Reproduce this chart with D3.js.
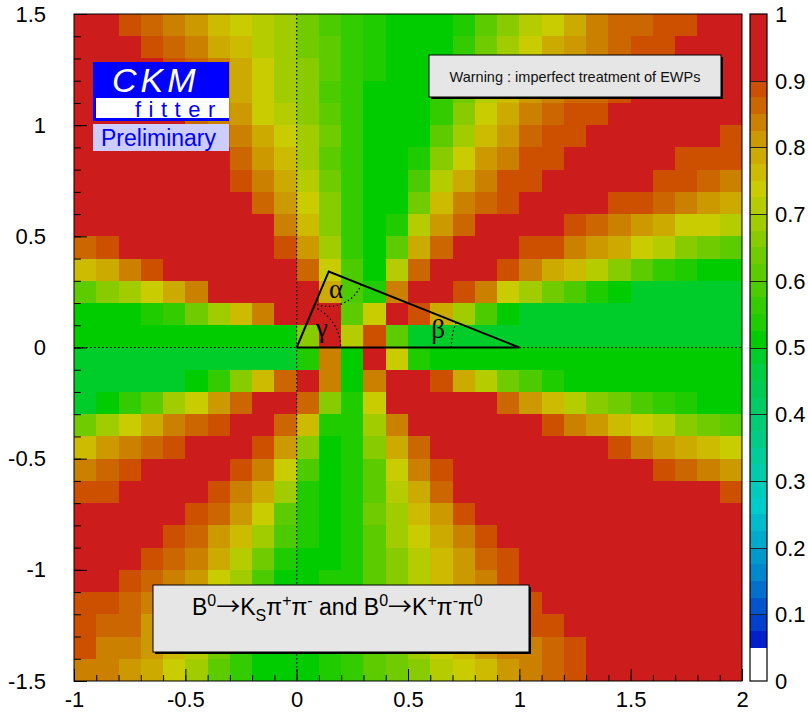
<!DOCTYPE html>
<html><head><meta charset="utf-8">
<script src="https://cdn.jsdelivr.net/npm/d3@7"></script>
<style>body{margin:0;background:#fff}</style>
</head><body>
<svg id="c" width="808" height="713"></svg>
<script>
// ---- data ----
const rhoBins = [-1.0,-0.9,-0.8,-0.7,-0.6,-0.5,-0.4,-0.3,-0.2,-0.1,0.0,0.1,0.2,0.3,0.4,0.5,0.6,0.7,0.8,0.9,1.0,1.1,1.2,1.3,1.4,1.5,1.6,1.7,1.8,1.9];
const etaBins = [1.4,1.3,1.2,1.1,1.0,0.9,0.8,0.7,0.6,0.5,0.4,0.3,0.2,0.1,0.0,-0.1,-0.2,-0.3,-0.4,-0.5,-0.6,-0.7,-0.8,-0.9,-1.0,-1.1,-1.2,-1.3,-1.4,-1.5];
const binWidth = 0.1;
const pValue = [
[.95,.95,.89,.86,.84,.81,.76,.74,.71,.69,.64,.59,.56,.54,.51,.51,.51,.54,.61,.66,.71,.74,.79,.84,.86,.86,.89,.89,.95,.95],
[.95,.95,.95,.89,.86,.84,.79,.76,.71,.69,.64,.61,.56,.54,.51,.51,.51,.56,.64,.69,.74,.79,.81,.84,.86,.89,.89,.95,.95,.95],
[.95,.95,.95,.95,.89,.86,.84,.79,.74,.69,.66,.61,.56,.54,.51,.51,.54,.61,.69,.74,.79,.81,.84,.86,.89,.89,.95,.95,.95,.95],
[.95,.95,.95,.95,.95,.89,.84,.79,.74,.69,.66,.59,.56,.51,.51,.51,.56,.64,.71,.76,.81,.84,.86,.86,.89,.95,.95,.95,.95,.95],
[.95,.95,.95,.95,.95,.86,.84,.81,.74,.71,.66,.61,.56,.51,.51,.51,.56,.66,.74,.79,.84,.86,.89,.89,.95,.95,.95,.95,.95,.95],
[.95,.95,.95,.95,.95,.95,.86,.84,.79,.74,.69,.64,.56,.51,.51,.51,.61,.69,.76,.81,.86,.89,.89,.95,.95,.95,.95,.95,.95,.89],
[.95,.95,.95,.95,.95,.95,.95,.86,.81,.76,.69,.61,.56,.51,.51,.54,.66,.74,.81,.84,.89,.89,.95,.95,.95,.95,.95,.89,.89,.89],
[.95,.95,.95,.95,.95,.95,.95,.89,.84,.79,.71,.64,.56,.51,.51,.59,.71,.79,.84,.89,.89,.95,.95,.95,.95,.95,.89,.89,.86,.84],
[.95,.95,.95,.95,.95,.95,.95,.95,.86,.81,.74,.66,.56,.51,.51,.64,.76,.84,.86,.89,.95,.95,.95,.95,.89,.89,.86,.84,.81,.79],
[.95,.95,.95,.95,.95,.95,.95,.95,.95,.84,.76,.66,.56,.51,.54,.71,.81,.86,.95,.95,.95,.95,.89,.86,.84,.81,.79,.74,.74,.71],
[.86,.89,.95,.95,.95,.95,.95,.95,.95,.89,.81,.69,.56,.51,.61,.79,.86,.95,.95,.95,.89,.89,.84,.81,.79,.74,.71,.66,.64,.61],
[.76,.79,.84,.89,.95,.95,.95,.95,.95,.95,.86,.74,.59,.51,.71,.86,.95,.95,.95,.89,.84,.79,.76,.71,.66,.61,.56,.54,.51,.51],
[.61,.66,.69,.74,.79,.84,.95,.95,.95,.95,.95,.79,.59,.54,.84,.95,.95,.89,.84,.74,.69,.64,.59,.54,.51,.49,.49,.49,.49,.49],
[.51,.51,.51,.54,.56,.64,.69,.76,.84,.95,.95,.95,.61,.74,.95,.89,.79,.69,.59,.51,.49,.49,.49,.49,.49,.49,.49,.49,.49,.49],
[.51,.51,.51,.51,.51,.51,.51,.51,.51,.51,.66,.95,.71,.89,.61,.49,.49,.49,.49,.49,.49,.49,.49,.49,.49,.49,.49,.49,.49,.49],
[.49,.49,.49,.49,.49,.49,.49,.49,.49,.49,.54,.84,.51,.95,.74,.54,.51,.51,.51,.51,.51,.51,.51,.51,.51,.51,.51,.51,.51,.51],
[.49,.49,.49,.49,.49,.51,.56,.66,.76,.86,.95,.84,.51,.84,.95,.95,.89,.79,.71,.64,.59,.54,.51,.51,.51,.51,.51,.51,.51,.51],
[.49,.51,.56,.61,.69,.74,.81,.86,.95,.95,.86,.66,.54,.74,.95,.95,.95,.95,.95,.86,.81,.76,.71,.66,.64,.59,.56,.54,.51,.51],
[.64,.69,.74,.79,.84,.86,.89,.95,.95,.86,.76,.54,.54,.69,.84,.95,.95,.95,.95,.95,.95,.89,.84,.81,.76,.74,.71,.66,.64,.61],
[.76,.81,.84,.86,.89,.95,.95,.95,.89,.81,.66,.51,.54,.66,.79,.86,.95,.95,.95,.95,.95,.95,.95,.95,.89,.84,.81,.79,.76,.74],
[.84,.86,.89,.95,.95,.95,.95,.89,.84,.74,.59,.51,.54,.61,.74,.84,.89,.95,.95,.95,.95,.95,.95,.95,.95,.95,.89,.86,.84,.81],
[.89,.89,.95,.95,.95,.95,.89,.84,.79,.69,.54,.51,.54,.61,.71,.79,.86,.95,.95,.95,.95,.95,.95,.95,.95,.95,.95,.95,.95,.89],
[.95,.95,.95,.95,.95,.89,.86,.81,.74,.61,.54,.51,.54,.64,.69,.76,.81,.89,.95,.95,.95,.95,.95,.95,.95,.95,.95,.95,.95,.95],
[.95,.95,.95,.95,.89,.86,.81,.76,.69,.59,.54,.51,.54,.61,.69,.74,.79,.84,.89,.95,.95,.95,.95,.95,.95,.95,.95,.95,.95,.95],
[.95,.95,.95,.89,.86,.84,.79,.71,.64,.54,.51,.51,.54,.61,.66,.71,.76,.81,.86,.89,.95,.95,.95,.95,.95,.95,.95,.95,.95,.95],
[.95,.95,.89,.86,.84,.81,.74,.69,.59,.51,.51,.54,.54,.61,.66,.71,.76,.81,.84,.89,.95,.95,.95,.95,.95,.95,.95,.95,.95,.95],
[.89,.89,.86,.84,.81,.76,.71,.61,.54,.51,.51,.54,.54,.61,.66,.71,.76,.81,.84,.86,.89,.95,.95,.95,.95,.95,.95,.95,.95,.95],
[.89,.86,.86,.81,.79,.74,.69,.59,.51,.51,.51,.54,.56,.61,.66,.69,.74,.79,.81,.84,.89,.89,.95,.95,.95,.95,.95,.95,.95,.95],
[.89,.84,.84,.81,.76,.71,.64,.56,.51,.51,.51,.54,.56,.61,.64,.69,.74,.76,.81,.84,.84,.86,.89,.95,.95,.95,.95,.95,.95,.95],
[.84,.84,.81,.79,.74,.69,.61,.56,.51,.51,.51,.54,.56,.61,.64,.66,.71,.74,.76,.81,.84,.86,.89,.95,.95,.95,.95,.95,.95,.95]
];
const xTickLabels = [-1,-0.5,0,0.5,1,1.5,2];
const yTickLabels = [-1.5,-1,-0.5,0,0.5,1,1.5];
const zTickLabels = [0,0.1,0.2,0.3,0.4,0.5,0.6,0.7,0.8,0.9,1];
const triangle = [[0,0],[1,0],[0.144,0.342]];   // (rho, eta) vertices: O, B, apex A

// ---- style ----
const paletteColors = ['#ffffff',
 '#0020cc','#0040cc','#0055cc','#0070cc','#0088cc','#0099cc','#00aacc','#00bbcc',
 '#00cccc','#00ccbb','#00ccaa','#00cc99','#00cc88','#00cc77','#00cc66','#00cc55','#00cc44','#00cc2a',
 '#00cc00','#1ecc00','#33cc00','#4ccc00','#5ccc00','#70cc00','#88cc00','#a0cc00','#b4cc00','#c8cc00',
 '#ccbb00','#ccaa00','#cc9900','#cc8000','#cc6600','#cc5000',
 '#cc1c1c'];
const thresholds = d3.range(35).map(i => +(0.05 + 0.025*i).toFixed(3));
const color = d3.scaleThreshold().domain(thresholds).range(paletteColors);
const FONT = "'Liberation Sans', Arial, Helvetica, sans-serif";
const SERIF = "'Liberation Serif', 'Times New Roman', serif";

const svg = d3.select('#c');
const x = d3.scaleLinear().domain([-1,2]).range([74,742]);
const y = d3.scaleLinear().domain([-1.5,1.5]).range([681,14]);

// ---- cells ----
const cells = [];
pValue.forEach((row,j) => row.forEach((v,i) => cells.push({rho:rhoBins[i], eta:etaBins[j], v})));
svg.append('g').selectAll('rect').data(cells).join('rect')
  .attr('x', d => Math.round(x(d.rho)))
  .attr('y', d => Math.round(y(d.eta+binWidth)))
  .attr('width', d => Math.round(x(d.rho+binWidth)) - Math.round(x(d.rho)))
  .attr('height', d => Math.round(y(d.eta)) - Math.round(y(d.eta+binWidth)))
  .attr('fill', d => color(d.v))
  .attr('shape-rendering','crispEdges');

// ---- dotted axes ----
const dot = g => g.attr('stroke','#000').attr('stroke-width',1.2).attr('stroke-dasharray','1.5,2.5').attr('fill','none');
svg.append('line').attr('x1',x(0)).attr('x2',x(0)).attr('y1',y(1.5)).attr('y2',y(-1.5)).call(dot);
svg.append('line').attr('x1',x(-1)).attr('x2',x(0)).attr('y1',y(0)).attr('y2',y(0)).call(dot);
svg.append('line').attr('x1',x(1)).attr('x2',x(2)).attr('y1',y(0)).attr('y2',y(0)).call(dot);

// ---- triangle ----
const P = triangle.map(([r,e]) => [x(r), y(e)]);
svg.append('path').attr('d', d3.line()([P[0],P[1],P[2],P[0]]))
  .attr('fill','none').attr('stroke','#000').attr('stroke-width',2).attr('stroke-linejoin','miter');
const [O,B,A] = P;
const ang = (p,q) => Math.atan2(q[1]-p[1], q[0]-p[0]);
let pa = d3.path(); pa.arc(O[0],O[1],44, ang(O,A), 0, false);
svg.append('path').attr('d', pa.toString()).call(dot);
pa = d3.path(); pa.arc(A[0],A[1],35, ang(A,B), ang(A,O), false);
svg.append('path').attr('d', pa.toString()).call(dot);
pa = d3.path(); pa.arc(B[0],B[1],68, Math.PI, ang(B,A)+2*Math.PI, false);
svg.append('path').attr('d', pa.toString()).call(dot);
const greek = [['α',0.177,0.223],['γ',0.112,0.047],['β',0.635,0.043]];
svg.append('g').selectAll('text').data(greek).join('text')
  .attr('x', d => x(d[1])).attr('y', d => y(d[2]))
  .attr('text-anchor','middle').attr('font-family',SERIF).attr('font-size',27)
  .text(d => d[0]);

// ---- frame & axes ----
svg.append('rect').attr('x',74).attr('y',14).attr('width',668).attr('height',667)
  .attr('fill','none').attr('stroke','#000').attr('stroke-width',1);
const fmt = d => String(d);
const yAx = svg.append('g').attr('transform','translate(74,0)')
  .call(d3.axisLeft(y).tickValues(yTickLabels).tickSize(-13).tickPadding(28).tickFormat(fmt));
const yMin = svg.append('g').attr('transform','translate(74,0)')
  .call(d3.axisLeft(y).ticks(30).tickSize(-7).tickFormat(''));
const xAx = svg.append('g').attr('transform','translate(0,681)')
  .call(d3.axisBottom(x).tickValues(xTickLabels).tickSize(-12).tickPadding(10).tickFormat(fmt));
const xMin = svg.append('g').attr('transform','translate(0,681)')
  .call(d3.axisBottom(x).ticks(30).tickSize(-6).tickFormat(''));
[yAx,yMin,xAx,xMin].forEach(g => {
  g.select('.domain').remove();
  g.selectAll('line').attr('stroke','#000');
  g.selectAll('text').attr('font-family',FONT).attr('font-size',22).attr('fill','#000');
});

// ---- colour bar ----
const cy = d3.scaleLinear().domain([0,1]).range([681,14]);
const bounds = [0].concat(thresholds, [1]);
const bands = d3.range(bounds.length-1).map(i => ({lo:bounds[i], hi:bounds[i+1]}));
svg.append('g').selectAll('rect').data(bands).join('rect')
  .attr('x',750).attr('width',17)
  .attr('y', d => Math.round(cy(d.hi))).attr('height', d => Math.round(cy(d.lo)) - Math.round(cy(d.hi)))
  .attr('fill', d => color((d.lo+d.hi)/2)).attr('shape-rendering','crispEdges');
svg.append('g').selectAll('line').data(zTickLabels.slice(1,-1)).join('line')
  .attr('x1',750).attr('x2',767).attr('y1', d => Math.round(cy(d))+0.5).attr('y2', d => Math.round(cy(d))+0.5)
  .attr('stroke','#222').attr('stroke-width',1);
svg.append('rect').attr('x',750).attr('y',14).attr('width',17).attr('height',667)
  .attr('fill','none').attr('stroke','#000').attr('stroke-width',1.2);
svg.append('g').selectAll('text').data(zTickLabels).join('text')
  .attr('x',775).attr('y', d => cy(d)).attr('dy','0.36em')
  .attr('font-family',FONT).attr('font-size',22).text(fmt);

// ---- CKMfitter logo ----
svg.append('rect').attr('x',93).attr('y',62).attr('width',136).attr('height',59).attr('fill','#0000ff');
svg.append('rect').attr('x',96).attr('y',98).attr('width',133).attr('height',20).attr('fill','#ffffff');
svg.append('text').attr('x',112).attr('y',92).attr('font-family',FONT).attr('font-style','italic')
  .attr('font-size',34).attr('letter-spacing',4).attr('fill','#ffffff').text('CKM');
svg.append('text').attr('x',135).attr('y',116.5).attr('font-family',FONT)
  .attr('font-size',22).attr('letter-spacing',7.5).attr('fill','#0000ff').text('fitter');
svg.append('rect').attr('x',93).attr('y',124).attr('width',136).attr('height',27).attr('fill','#ccccff');
svg.append('text').attr('x',101).attr('y',146).attr('font-family',FONT)
  .attr('font-size',23).attr('fill','#0000ff').text('Preliminary');

// ---- warning box ----
svg.append('rect').attr('x',431).attr('y',57).attr('width',292).attr('height',42).attr('fill','#000');
svg.append('rect').attr('x',429).attr('y',55).attr('width',292).attr('height',42)
  .attr('fill','#e6e6e6').attr('stroke','#000').attr('stroke-width',1);
svg.append('text').attr('x',575).attr('y',82).attr('text-anchor','middle').attr('font-family',FONT)
  .attr('font-size',14.5).attr('fill','#111').text('Warning : imperfect treatment of EWPs');

// ---- channel box ----
svg.append('rect').attr('x',155).attr('y',587).attr('width',376).attr('height',67).attr('fill','#000');
svg.append('rect').attr('x',153).attr('y',585).attr('width',376).attr('height',67)
  .attr('fill','#e6e6e6').attr('stroke','#000').attr('stroke-width',1);
const t = svg.append('text').attr('x',192).attr('y',615).attr('font-family',FONT).attr('font-size',23).attr('fill','#000');
const ARROW = "'Noto Sans CJK SC', 'DejaVu Sans', sans-serif";
const parts = [
 ['B',0,23,null],['0',-9,16,null],['→',9,24,ARROW],['K',0,23,null],['S',6,16,null],['π',-6,23,null],['+',-9,16,null],['π',9,23,null],['-',-9,16,null],[' and B',9,23,null],
 ['0',-9,16,null],['→',9,24,ARROW],['K',0,23,null],['+',-9,16,null],['π',9,23,null],['-',-9,16,null],['π',9,23,null],['0',-9,16,null]
];
parts.forEach(([s,dy,fs,ff]) => {
  const sp = t.append('tspan').attr('dy',dy).attr('font-size',fs).text(s);
  if (ff) sp.attr('font-family',ff);
});
</script>
</body></html>
